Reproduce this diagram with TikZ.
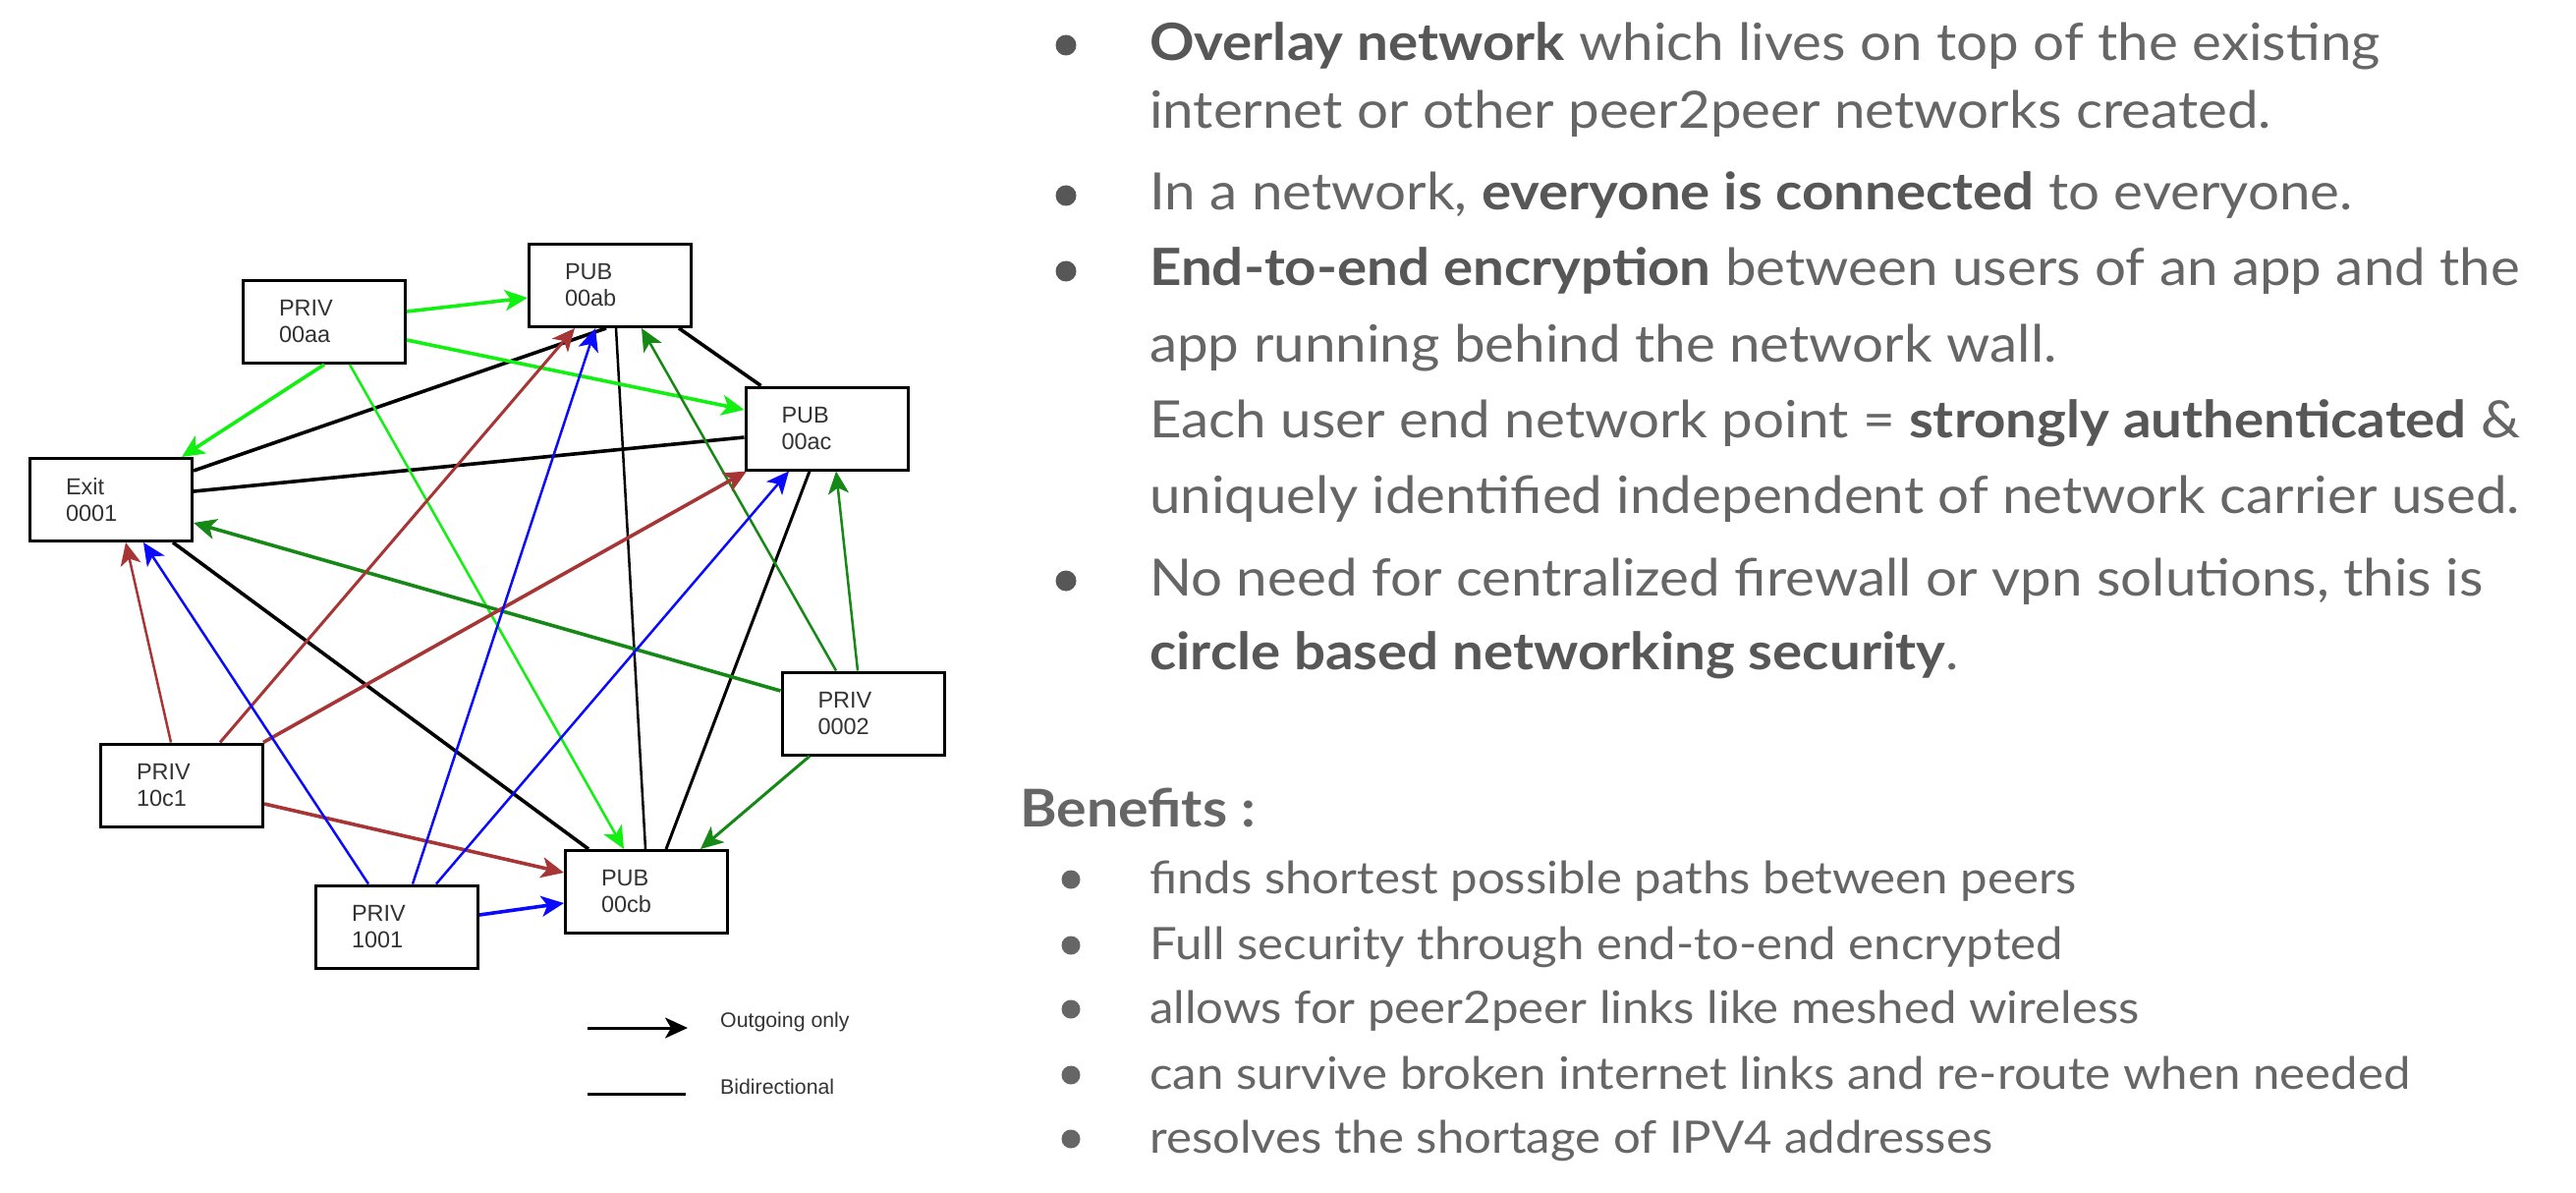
\documentclass[tikz,border=0pt]{standalone}
\usepackage{fontspec}
\setmainfont{Lato}[FakeStretch=1.08]
\newfontfamily\diagfont{Liberation Sans}
\usetikzlibrary{arrows.meta,calc}

\definecolor{lgreen}{HTML}{11F011}
\definecolor{dgreen}{HTML}{168816}
\definecolor{brownred}{HTML}{A83535}
\definecolor{pblue}{HTML}{0A0AFF}
\definecolor{txtgray}{HTML}{666666}
\definecolor{txtbold}{HTML}{575757}
\definecolor{labelgray}{HTML}{333333}

\tikzset{
  peer/.style={draw=black, line width=3pt, fill=white,
    minimum width=165pt, minimum height=84pt, inner sep=0pt,
    text width=92pt, align=left, text=labelgray,
    font=\diagfont\fontsize{23.5}{27}\selectfont},
  tip/.style={-{Stealth[length=23pt,width=21pt,inset=6pt]}},
  thickw/.style={line width=3.6pt},
  thinw/.style={line width=2.5pt},
  midw/.style={line width=3pt},
  maintext/.style={anchor=base west, inner sep=0pt, text=txtgray,
    font=\fontsize{52.3}{60}\selectfont},
  subtext/.style={anchor=base west, inner sep=0pt, text=txtgray,
    font=\fontsize{45.5}{54}\selectfont},
  headtext/.style={anchor=base west, inner sep=0pt, text=txtgray,
    font=\fontsize{53}{62}\selectfont\bfseries},
  dot/.style={circle, fill=#1, inner sep=0pt, minimum size=21pt},
  legendtext/.style={anchor=base west, inner sep=0pt, text=labelgray,
    font=\diagfont\fontsize{21.3}{25}\selectfont}
}
\newcommand{\hb}[1]{{\bfseries\color{txtbold}#1}}

\begin{document}
\begin{tikzpicture}[x=1pt,y=-1pt]
\useasboundingbox[fill=white] (0,0) rectangle (2622,1214);

% ---- peers ----
\node[peer] (aa) at (330,327.5) {PRIV\\00aa};
\node[peer] (ab) at (621,290.5) {PUB\\00ab};
\node[peer] (ac) at (841.5,436) {PUB\\00ac};
\node[peer] (ex) at (113,508.5) {Exit\\0001};
\node[peer] (p2) at (878.5,726) {PRIV\\0002};
\node[peer] (c1) at (185,799) {PRIV\\10c1};
\node[peer] (p1) at (404,943) {PRIV\\1001};
\node[peer] (cb) at (658,907.5) {PUB\\00cb};

% ---- bidirectional links ----
\draw[thickw] ($(ex)+(84,-29.5)$) -- ($(ab)+(-4,43.5)$);
\draw[thickw] ($(ex)+(84,-8.5)$) -- ($(ac)+(-84,9)$);
\draw[thickw] ($(ab)+(70,43.5)$) -- ($(ac)+(-67,-43.5)$);
\draw[thinw]  ($(ab)+(6,43.5)$) -- ($(cb)+(-1,-43.5)$);
\draw[midw]   ($(ac)+(-17.5,43.5)$) -- ($(cb)+(20,-43.5)$);
\draw[thickw] ($(ex)+(63,43.5)$) -- ($(cb)+(-59,-43.5)$);

% ---- outgoing links from 00aa ----
\draw[tip, thickw, lgreen] ($(aa)+(84,-10.5)$) -- ($(ab)+(-84,12.5)$);
\draw[tip, thickw, lgreen] ($(aa)+(84,18.5)$) -- ($(ac)+(-84,-19)$);
\draw[tip, thickw, lgreen] ($(aa)+(0,43.5)$) -- ($(ex)+(72,-43.5)$);
\draw[tip, thinw, lgreen]  ($(aa)+(26,43.5)$) -- ($(cb)+(-23,-43.5)$);

% ---- outgoing links from 0002 ----
\draw[tip, thickw, dgreen] ($(p2)+(-84,-23)$) -- ($(ex)+(84,23.5)$);
\draw[tip, thinw, dgreen]  ($(p2)+(-27.5,-43.5)$) -- ($(ab)+(32,43.5)$);
\draw[tip, thinw, dgreen]  ($(p2)+(-5.5,-43.5)$) -- ($(ac)+(9.5,43.5)$);
\draw[tip, midw, dgreen]   ($(p2)+(-54.5,43.5)$) -- ($(cb)+(55,-43.5)$);

% ---- outgoing links from 10c1 ----
\draw[tip, thinw, brownred]  ($(c1)+(-11,-43.5)$) -- ($(ex)+(15,43.5)$);
\draw[tip, midw, brownred]   ($(c1)+(39,-43.5)$) -- ($(ab)+(-36,43.5)$);
\draw[tip, thickw, brownred] ($(c1)+(83,-43.5)$) -- ($(ac)+(-81.5,43.5)$);
\draw[tip, thickw, brownred] ($(c1)+(84,19)$) -- ($(cb)+(-84,-19.5)$);

% ---- outgoing links from 1001 ----
\draw[tip, thinw, pblue]  ($(p1)+(-29,-43.5)$) -- ($(ex)+(33,43.5)$);
\draw[tip, thinw, pblue]  ($(p1)+(16,-43.5)$) -- ($(ab)+(-15,43.5)$);
\draw[tip, thinw, pblue]  ($(p1)+(40,-43.5)$) -- ($(ac)+(-38.5,43.5)$);
\draw[tip, thickw, pblue] ($(p1)+(84,-12)$) -- ($(cb)+(-84,11.5)$);

% ---- legend ----
\coordinate (lg1a) at (598,1046);
\coordinate (lg1b) at (700,1046);
\coordinate (lg2a) at (598,1113);
\coordinate (lg2b) at (698,1113);
\draw[tip, midw] (lg1a) -- (lg1b);
\draw[midw] (lg2a) -- (lg2b);
\node[legendtext] (lgt1) at (733,1045) {Outgoing only};
\node[legendtext] (lgt2) at (733,1113) {Bidirectional};

% ---- description ----
\node[dot=txtbold] (b1) at (1085,46) {};
\node[dot=txtbold] (b2) at (1085,199) {};
\node[dot=txtbold] (b3) at (1085,276) {};
\node[dot=txtbold] (b4) at (1085,591) {};
\node[maintext] (t1) at (1170,62)  {\hb{Overlay network} which lives on top of the existing};
\node[maintext] (t2) at (1170,131) {internet or other peer2peer networks created.};
\node[maintext] (t3) at (1170,214) {In a network, \hb{everyone is connected} to everyone.};
\node[maintext] (t4) at (1170,291) {\hb{End-to-end encryption} between users of an app and the};
\node[maintext] (t5) at (1170,368) {app running behind the network wall.};
\node[maintext] (t6) at (1170,445) {Each user end network point = \hb{strongly authenticated} \&};
\node[maintext] (t7) at (1170,522) {uniquely identified independent of network carrier used.};
\node[maintext] (t8) at (1170,606) {No need for centralized firewall or vpn solutions, this is};
\node[maintext] (t9) at (1170,681) {\hb{circle based networking security}.};

\node[headtext] (hd) at (1038,841) {Benefits :};

\node[dot=txtgray, minimum size=19pt] (s1) at (1090,895) {};
\node[dot=txtgray, minimum size=19pt] (s2) at (1090,962) {};
\node[dot=txtgray, minimum size=19pt] (s3) at (1090,1027) {};
\node[dot=txtgray, minimum size=19pt] (s4) at (1090,1094) {};
\node[dot=txtgray, minimum size=19pt] (s5) at (1090,1159) {};
\node[subtext] (u1) at (1170,909)  {finds shortest possible paths between peers};
\node[subtext] (u2) at (1170,976)  {Full security through end-to-end encrypted};
\node[subtext] (u3) at (1170,1041) {allows for peer2peer links like meshed wireless};
\node[subtext] (u4) at (1170,1108) {can survive broken internet links and re-route when needed};
\node[subtext] (u5) at (1170,1173) {resolves the shortage of IPV4 addresses};
\end{tikzpicture}
\end{document}
